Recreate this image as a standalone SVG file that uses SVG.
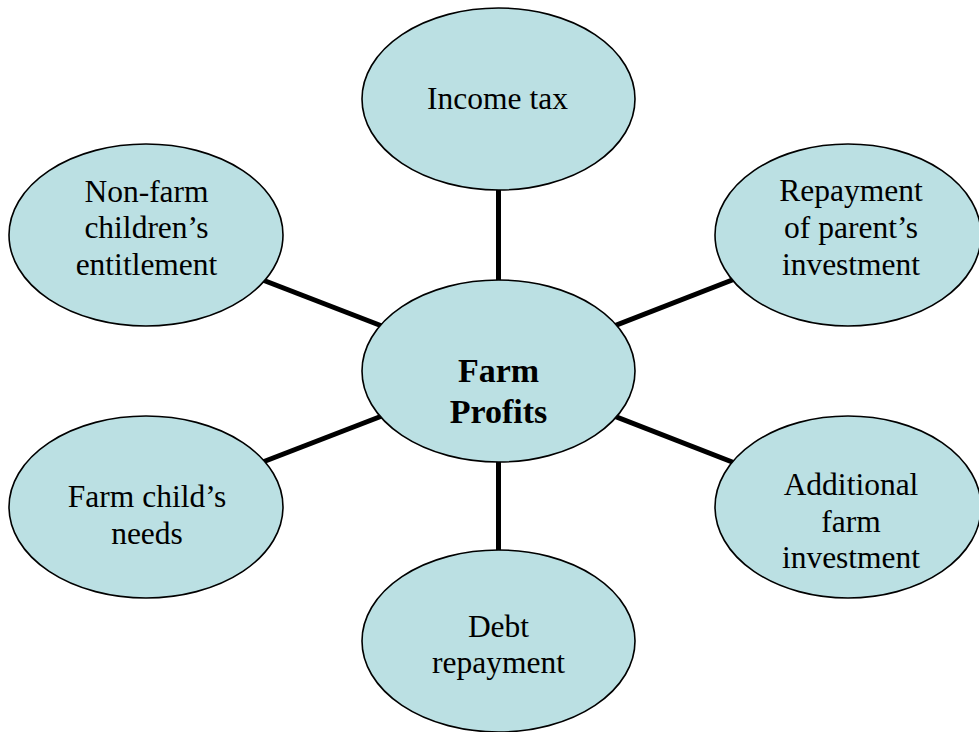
<svg xmlns="http://www.w3.org/2000/svg" width="979" height="732" viewBox="0 0 979 732">
<style>
.n{fill:#bbe0e3;stroke:#000;stroke-width:1.6}
.c{stroke:#000;stroke-width:5;fill:none}
.t{font-family:"Liberation Serif","Times New Roman",serif;font-size:31.5px;fill:#000;text-anchor:middle}
.b{font-weight:bold;font-size:34px}
</style>
<rect width="979" height="732" fill="#fff"/>
<g id="connectors">
<line class="c" x1="498.5" y1="371" x2="498.5" y2="99"/>
<line class="c" x1="498.5" y1="371" x2="498.5" y2="641"/>
<line class="c" x1="498.5" y1="371" x2="146" y2="235"/>
<line class="c" x1="498.5" y1="371" x2="848" y2="235"/>
<line class="c" x1="498.5" y1="371" x2="146" y2="507"/>
<line class="c" x1="498.5" y1="371" x2="848" y2="507"/>
</g>
<g id="income-tax">
<ellipse class="n" cx="498.5" cy="99" rx="136.5" ry="91"/>
<text class="t" x="497.5" y="109">Income tax</text>
</g>
<g id="non-farm">
<ellipse class="n" cx="146" cy="235" rx="137" ry="91"/>
<text class="t" x="146.5" y="201.5">Non-farm</text>
<text class="t" x="146.5" y="238">children’s</text>
<text class="t" x="146.5" y="275">entitlement</text>
</g>
<g id="repayment">
<ellipse class="n" cx="848" cy="235" rx="133" ry="91"/>
<text class="t" x="851" y="201">Repayment</text>
<text class="t" x="851" y="238">of parent’s</text>
<text class="t" x="851" y="275">investment</text>
</g>
<g id="farm-profits">
<ellipse class="n" cx="498.5" cy="371" rx="136.5" ry="91"/>
<text class="t b" x="498.5" y="382">Farm</text>
<text class="t b" x="498.5" y="423">Profits</text>
</g>
<g id="farm-child">
<ellipse class="n" cx="146" cy="507" rx="137" ry="91"/>
<text class="t" x="147" y="507">Farm child’s</text>
<text class="t" x="147" y="544">needs</text>
</g>
<g id="additional">
<ellipse class="n" cx="848" cy="507" rx="133" ry="91"/>
<text class="t" x="851" y="495">Additional</text>
<text class="t" x="851" y="532">farm</text>
<text class="t" x="851" y="568">investment</text>
</g>
<g id="debt">
<ellipse class="n" cx="498.5" cy="641" rx="136.5" ry="91"/>
<text class="t" x="498.5" y="637">Debt</text>
<text class="t" x="498.5" y="673">repayment</text>
</g>
</svg>
